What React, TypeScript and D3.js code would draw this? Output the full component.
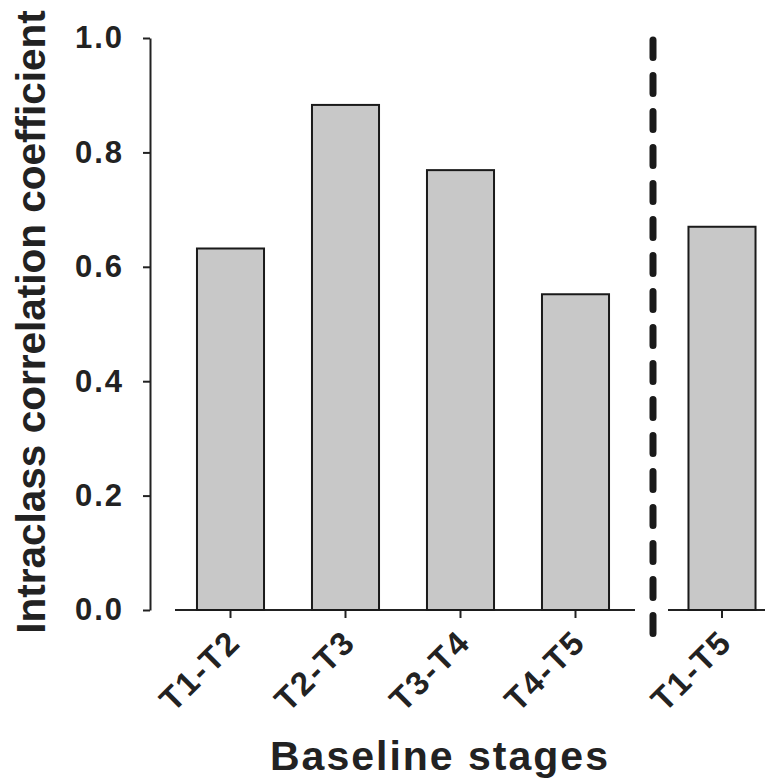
import React, { useEffect, useRef } from 'react';
import * as d3 from 'd3';

// baseline stage pairs (left group) and the overall pair (right group)
const stageLabels = ['T1-T2', 'T2-T3', 'T3-T4', 'T4-T5'];
const stageIcc = [0.632, 0.883, 0.769, 0.552];
const overallLabels = ['T1-T5'];
const overallIcc = [0.67];
const yTicks = [0, 0.2, 0.4, 0.6, 0.8, 1.0];

const W = 765;
const H = 783;
const textColor = '#222';
const font = '"Liberation Sans", Arial, Helvetica, sans-serif';

const App: React.FC = () => {
  const svgRef = useRef<SVGSVGElement | null>(null);

  useEffect(() => {
    const svg = d3.select(svgRef.current);
    svg.selectAll('*').remove();

    const y = d3.scaleLinear().domain([0, 1]).range([610, 38]);

    const xLeft = d3.scaleBand<string>()
      .domain(stageLabels)
      .range([173, 633])
      .paddingInner(0.417)
      .paddingOuter(0.2085);

    const xRight = d3.scaleBand<string>()
      .domain(overallLabels)
      .range([664.5, 779.5])
      .paddingInner(0.417)
      .paddingOuter(0.2085);

    const leftData = stageLabels.map((name, i) => ({ name, value: stageIcc[i] }));
    const rightData = overallLabels.map((name, i) => ({ name, value: overallIcc[i] }));

    // Y axis
    const yAxis = svg.append('g')
      .attr('transform', 'translate(150,0)')
      .call(d3.axisLeft(y).tickValues(yTicks).tickFormat(d3.format('.1f')).tickSize(7).tickSizeOuter(0).tickPadding(19));
    yAxis.selectAll('path, line').attr('stroke', textColor).attr('stroke-width', 2);
    yAxis.selectAll('text')
      .attr('fill', textColor)
      .style('font-family', font)
      .style('font-weight', 'bold')
      .style('font-size', '31px')
      .style('letter-spacing', '2px');

    // X axes: two separate segments
    const drawXAxis = (scale: d3.ScaleBand<string>, x0: number, x1: number) => {
      const g = svg.append('g').attr('transform', `translate(0,${y(0)})`);
      g.append('line')
        .attr('x1', x0).attr('x2', x1)
        .attr('stroke', textColor).attr('stroke-width', 2);
      g.selectAll('.tick')
        .data(scale.domain())
        .join('line')
        .attr('x1', d => scale(d)! + scale.bandwidth() / 2)
        .attr('x2', d => scale(d)! + scale.bandwidth() / 2)
        .attr('y1', 0).attr('y2', 8)
        .attr('stroke', textColor).attr('stroke-width', 2);
      g.selectAll('.lbl')
        .data(scale.domain())
        .join('text')
        .attr('transform', d => `translate(${scale(d)! + scale.bandwidth() / 2 + 12},34) rotate(-45)`)
        .attr('text-anchor', 'end')
        .attr('fill', textColor)
        .style('font-family', font)
        .style('font-weight', 'bold')
        .style('font-size', '33px')
        .style('letter-spacing', '2px')
        .text(d => d);
    };
    drawXAxis(xLeft, 175, 635);
    drawXAxis(xRight, 668, W);

    // Bars
    const drawBars = (scale: d3.ScaleBand<string>, data: { name: string; value: number }[]) => {
      svg.append('g')
        .selectAll('rect')
        .data(data)
        .join('rect')
        .attr('x', d => scale(d.name)!)
        .attr('y', d => y(d.value))
        .attr('width', scale.bandwidth())
        .attr('height', d => y(0) - y(d.value))
        .attr('fill', '#c8c8c8')
        .attr('stroke', '#1a1a1a')
        .attr('stroke-width', 2);
    };
    drawBars(xLeft, leftData);
    drawBars(xRight, rightData);

    // separator between groups
    svg.append('line')
      .attr('x1', 653).attr('x2', 653)
      .attr('y1', 633.5).attr('y2', 40)
      .attr('stroke', '#1a1a1a')
      .attr('stroke-width', 7)
      .attr('stroke-linecap', 'round')
      .attr('stroke-dasharray', '18 18');

    // axis titles
    svg.append('text')
      .attr('transform', 'translate(45,322) rotate(-90)')
      .attr('text-anchor', 'middle')
      .attr('fill', textColor)
      .style('font-family', font)
      .style('font-weight', 'bold')
      .style('font-size', '40.5px')
      .text('Intraclass correlation coefficient');

    svg.append('text')
      .attr('x', 440)
      .attr('y', 770)
      .attr('text-anchor', 'middle')
      .attr('fill', textColor)
      .style('font-family', font)
      .style('font-weight', 'bold')
      .style('font-size', '41px')
      .style('letter-spacing', '2px')
      .text('Baseline stages');
  }, []);

  return (
    <div>
      <style>{`body{margin:0}`}</style>
      <svg ref={svgRef} width={W} height={H} style={{ display: 'block', background: '#fff' }} />
    </div>
  );
};

export default App;
